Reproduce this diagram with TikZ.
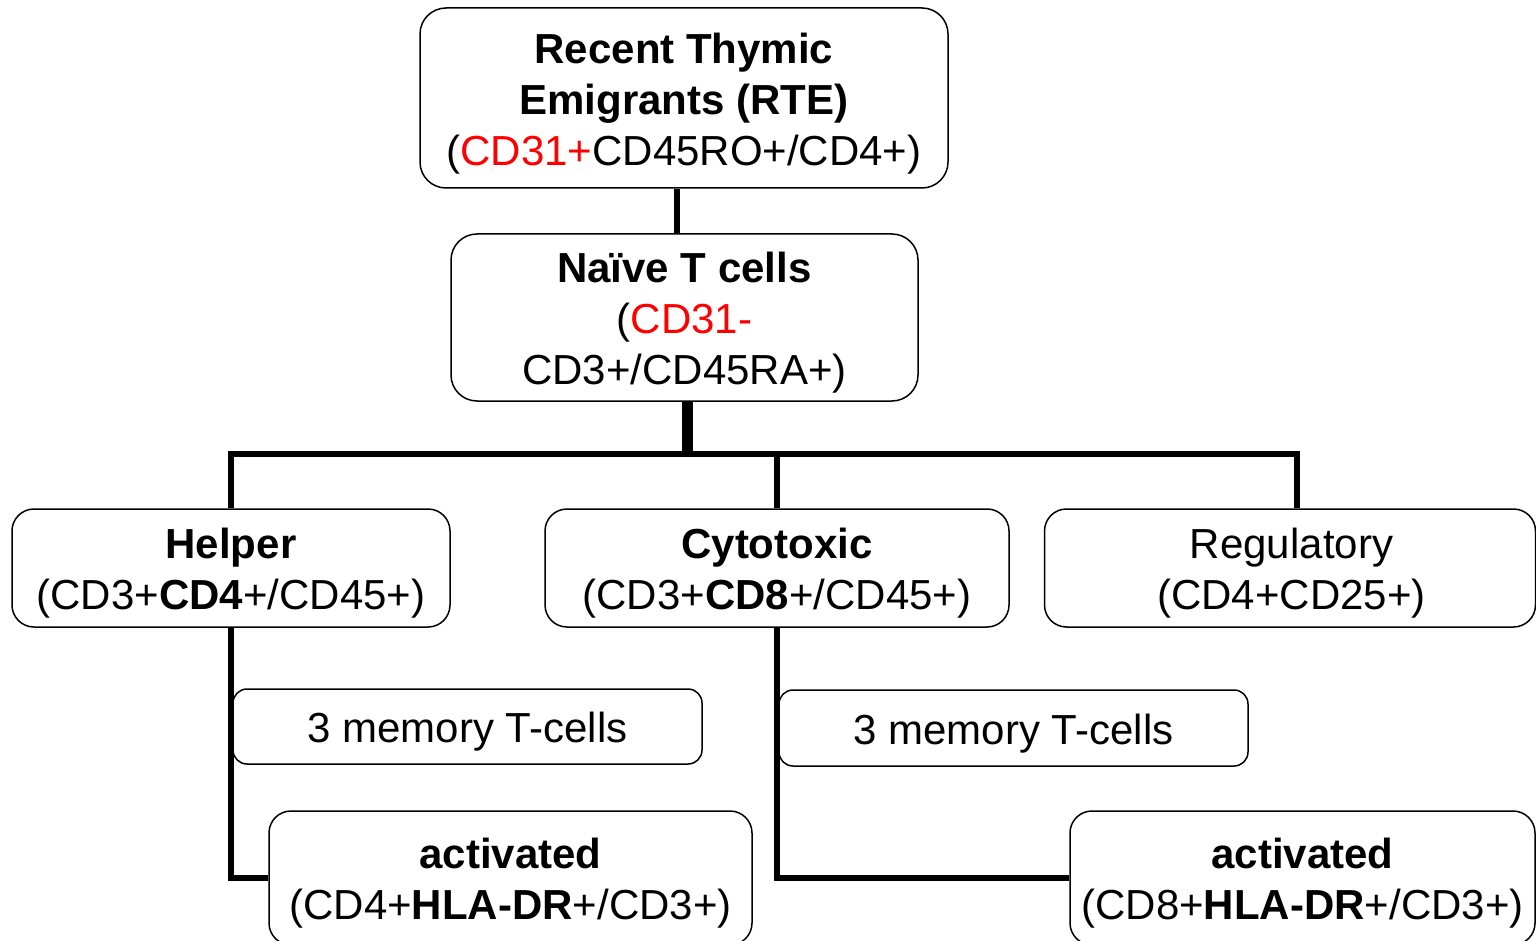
\documentclass[tikz,border=0pt]{standalone}
\usepackage{fontspec}
\setmainfont{Liberation Sans}
\newcommand{\topstrut}{\rule{0pt}{41pt}}
\begin{document}
\begin{tikzpicture}[x=1pt,y=-1pt,
  box/.style={draw=black,line width=1.5pt,fill=white,rounded corners=26pt,inner sep=0pt,align=center,
    font=\fontsize{42}{51}\selectfont},
  smallbox/.style={box,rounded corners=14pt},
  conn/.style={draw=black,line width=5.5pt,line join=miter,line cap=butt},
  thickconn/.style={draw=black,line width=11pt,line cap=butt}]
\useasboundingbox (0,0) rectangle (1536,941);
\fill[white] (0,0) rectangle (1536,941);
% nodes
\node[box,minimum width=528pt,minimum height=180pt] (rte) at (684,98)
  {\topstrut\textbf{Recent Thymic}\\\textbf{Emigrants (RTE)}\\(\textcolor{red}{CD31+}CD45RO+/CD4+)};
\node[box,minimum width=467pt,minimum height=167pt] (naive) at (684.5,317.5)
  {\topstrut\textbf{Naïve T cells}\\(\textcolor{red}{CD31-}\\CD3+/CD45RA+)};
\node[box,rounded corners=22pt,minimum width=438pt,minimum height=118pt] (helper) at (231,568)
  {\topstrut\textbf{Helper}\\(CD3+\textbf{CD4}+/CD45+)};
\node[box,rounded corners=22pt,minimum width=464pt,minimum height=118pt] (cyto) at (777,568)
  {\topstrut\textbf{Cytotoxic}\\(CD3+\textbf{CD8}+/CD45+)};
\node[box,rounded corners=22pt,minimum width=491pt,minimum height=118pt] (reg) at (1290,568)
  {\topstrut\hspace*{3pt}Regulatory\\\hspace*{3pt}(CD4+CD25+)};
\node[smallbox,minimum width=469pt,minimum height=75pt] (mem1) at (467.5,726.5)
  {\topstrut 3 memory T-cells};
\node[smallbox,minimum width=469pt,minimum height=76pt] (mem2) at (1013.5,728)
  {\topstrut 3 memory T-cells};
\node[box,rounded corners=22pt,minimum width=483pt,minimum height=134pt] (act1) at (510.5,878)
  {\topstrut\textbf{activated}\\(CD4+\textbf{HLA-DR}+/CD3+)};
\node[box,rounded corners=22pt,minimum width=465pt,minimum height=134pt] (act2) at (1302.5,878)
  {\topstrut\textbf{activated}\\(CD8+\textbf{HLA-DR}+/CD3+)};
% coordinates
\coordinate (hub) at (687.5,454);
\coordinate (bl) at (231,454);
\coordinate (br) at (1297,454);
% connectors
\draw[conn] ([xshift=-7pt]rte.south) -- ([xshift=-7.5pt]naive.north);
\draw[thickconn] ([xshift=3pt]naive.south) -- ([yshift=3pt]hub);
\draw[conn] (helper.north) -- (bl) -- (br) -- (br |- reg.north);
\draw[conn] (cyto.north) -- (cyto.north |- hub);
\draw[conn] (helper.south) |- (act1.west);
\draw[conn] (cyto.south) |- (act2.west);
\end{tikzpicture}
\end{document}
